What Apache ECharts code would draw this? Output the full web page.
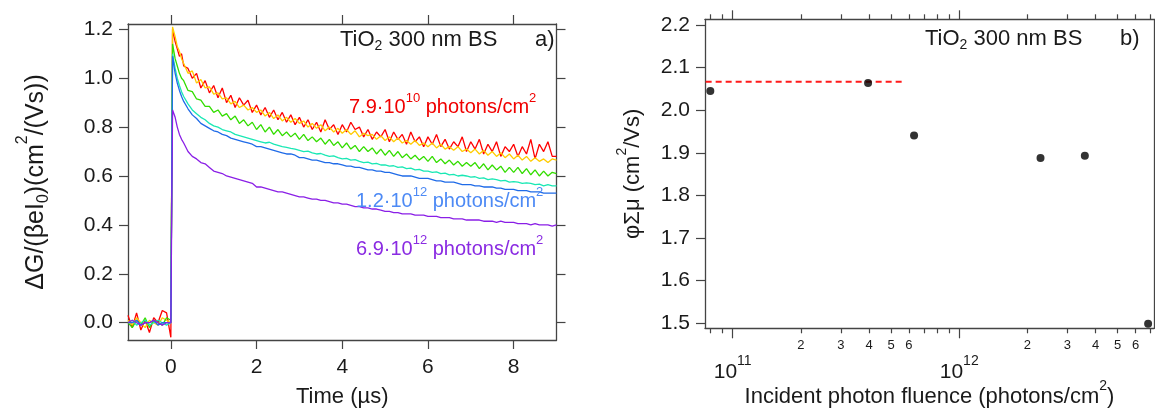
<!DOCTYPE html>
<html>
<head>
<meta charset="utf-8">
<script src="https://cdn.jsdelivr.net/npm/echarts@6/dist/echarts.min.js"></script>
<style>
html,body{margin:0;padding:0;background:#fff;}
#c{width:1155px;height:408px;}
</style>
</head>
<body>
<div id="c"></div>
<script>
// ---------- Panel a) data: time (µs) and normalized photoconductance ----------
const timeUs = [-1.0,-0.9,-0.8,-0.7,-0.6,-0.5,-0.4,-0.3,-0.2,-0.1,
  0.0,0.04,0.1,0.15,0.2,0.25,
  0.3,0.4,0.5,0.6,0.7,0.8,0.9,
  1.0,1.1,1.2,1.3,1.4,1.5,1.6,1.7,1.8,1.9,
  2.0,2.1,2.2,2.3,2.4,2.5,2.6,2.7,2.8,2.9,
  3.0,3.1,3.2,3.3,3.4,3.5,3.6,3.7,3.8,3.9,
  4.0,4.1,4.2,4.3,4.4,4.5,4.6,4.7,4.8,4.9,
  5.0,5.1,5.2,5.3,5.4,5.5,5.6,5.7,5.8,5.9,
  6.0,6.1,6.2,6.3,6.4,6.5,6.6,6.7,6.8,6.9,
  7.0,7.1,7.2,7.3,7.4,7.5,7.6,7.7,7.8,7.9,
  8.0,8.1,8.2,8.3,8.4,8.5,8.6,8.7,8.8,8.9,
  9.0];

const red = [0.03,-0.02,0.04,-0.03,0.01,-0.04,0.02,0.00,0.05,0.04,
  -0.06,1.20,1.15,1.12,1.09,1.10,
  1.05,1.04,1.00,1.02,0.96,0.99,0.94,
  0.97,0.92,0.96,0.90,0.93,0.88,0.92,0.89,0.91,0.86,
  0.89,0.85,0.88,0.84,0.87,0.83,0.86,0.82,0.85,0.81,
  0.84,0.80,0.83,0.79,0.82,0.78,0.83,0.79,0.81,0.77,
  0.81,0.78,0.82,0.79,0.80,0.76,0.79,0.75,0.78,0.76,
  0.79,0.74,0.78,0.75,0.77,0.73,0.78,0.74,0.76,0.72,
  0.76,0.73,0.77,0.72,0.75,0.71,0.74,0.72,0.76,0.70,
  0.74,0.71,0.75,0.69,0.73,0.70,0.74,0.68,0.72,0.70,
  0.73,0.68,0.72,0.69,0.75,0.67,0.73,0.70,0.74,0.68,
  0.68];

const yellow = [0.01,-0.01,0.02,0.00,-0.02,0.01,0.00,-0.01,0.02,0.01,
  0.00,1.21,1.17,1.13,1.11,1.08,
  1.06,1.02,1.03,0.98,0.995,0.96,0.965,
  0.935,0.94,0.915,0.92,0.895,0.905,0.88,0.89,0.87,0.88,
  0.86,0.87,0.845,0.86,0.835,0.85,0.825,0.84,0.82,0.835,
  0.815,0.825,0.80,0.815,0.795,0.81,0.785,0.80,0.78,0.795,
  0.775,0.79,0.77,0.785,0.76,0.775,0.765,0.77,0.75,0.765,
  0.745,0.76,0.74,0.755,0.735,0.745,0.73,0.745,0.725,0.735,
  0.72,0.735,0.715,0.73,0.71,0.72,0.705,0.72,0.70,0.71,
  0.695,0.71,0.69,0.705,0.685,0.70,0.68,0.695,0.675,0.69,
  0.67,0.685,0.665,0.68,0.66,0.675,0.66,0.67,0.655,0.67,
  0.665];

const green = [0.00,-0.02,0.01,-0.01,0.02,-0.02,0.01,0.00,-0.01,0.02,
  0.01,1.14,1.08,1.05,1.02,1.00,
  0.99,0.95,0.945,0.915,0.91,0.885,0.885,
  0.86,0.87,0.845,0.855,0.83,0.845,0.815,0.83,0.805,0.82,
  0.79,0.81,0.78,0.80,0.77,0.79,0.765,0.78,0.76,0.775,
  0.75,0.77,0.745,0.76,0.74,0.755,0.73,0.75,0.725,0.74,
  0.715,0.735,0.71,0.725,0.70,0.72,0.70,0.715,0.69,0.71,
  0.685,0.705,0.68,0.70,0.675,0.69,0.67,0.685,0.665,0.68,
  0.66,0.68,0.655,0.67,0.65,0.665,0.645,0.66,0.64,0.655,
  0.64,0.655,0.63,0.65,0.625,0.645,0.625,0.64,0.615,0.635,
  0.615,0.635,0.61,0.63,0.605,0.625,0.60,0.62,0.60,0.615,
  0.61];

const cyan = [0.00,0.01,-0.01,0.00,0.01,-0.01,0.00,0.01,0.00,-0.01,
  0.00,1.10,1.04,1.00,0.97,0.945,
  0.925,0.895,0.87,0.855,0.84,0.83,0.815,
  0.805,0.80,0.79,0.785,0.78,0.77,0.765,0.76,0.755,0.75,
  0.745,0.74,0.735,0.738,0.73,0.725,0.72,0.717,0.713,0.71,
  0.705,0.70,0.702,0.695,0.69,0.692,0.685,0.68,0.682,0.675,
  0.67,0.672,0.665,0.667,0.66,0.655,0.657,0.65,0.652,0.645,
  0.645,0.64,0.642,0.635,0.637,0.63,0.632,0.625,0.627,0.62,
  0.62,0.615,0.617,0.61,0.612,0.605,0.607,0.60,0.603,0.60,
  0.595,0.597,0.59,0.592,0.585,0.588,0.585,0.58,0.582,0.575,
  0.577,0.575,0.57,0.572,0.57,0.565,0.567,0.56,0.565,0.56,
  0.56];

const blue = [0.00,0.00,0.01,-0.01,0.00,0.00,0.01,-0.01,0.00,0.00,
  0.00,1.09,1.02,0.98,0.95,0.925,
  0.905,0.875,0.85,0.835,0.815,0.805,0.795,
  0.785,0.78,0.77,0.765,0.755,0.75,0.745,0.74,0.735,0.73,
  0.72,0.72,0.715,0.71,0.705,0.70,0.695,0.69,0.69,0.685,
  0.675,0.675,0.67,0.665,0.665,0.66,0.655,0.655,0.65,0.65,
  0.645,0.64,0.64,0.635,0.635,0.63,0.625,0.625,0.62,0.62,
  0.615,0.615,0.61,0.605,0.60,0.60,0.60,0.595,0.59,0.59,
  0.59,0.585,0.58,0.58,0.575,0.575,0.575,0.57,0.565,0.565,
  0.565,0.56,0.56,0.555,0.555,0.555,0.55,0.55,0.545,0.545,
  0.545,0.54,0.54,0.54,0.535,0.535,0.535,0.53,0.53,0.53,
  0.53];

const purple = [0.00,0.01,0.00,-0.01,0.00,0.00,0.01,0.00,-0.01,0.00,
  0.00,0.87,0.84,0.80,0.77,0.75,
  0.735,0.70,0.68,0.67,0.655,0.65,0.635,
  0.62,0.615,0.61,0.60,0.595,0.59,0.585,0.58,0.575,0.57,
  0.555,0.555,0.55,0.545,0.54,0.535,0.535,0.53,0.525,0.52,
  0.515,0.515,0.51,0.505,0.505,0.50,0.50,0.495,0.49,0.49,
  0.485,0.485,0.48,0.475,0.475,0.47,0.47,0.465,0.465,0.46,
  0.455,0.455,0.45,0.45,0.445,0.445,0.445,0.44,0.44,0.44,
  0.435,0.435,0.435,0.43,0.43,0.43,0.425,0.425,0.425,0.42,
  0.42,0.42,0.42,0.415,0.415,0.415,0.41,0.415,0.41,0.41,
  0.41,0.405,0.405,0.405,0.40,0.405,0.40,0.40,0.40,0.395,
  0.40];

const traceNames  = ['7.9e10','yellow','green','cyan','1.2e12','6.9e12'];
const traceColors = ['#ff0000','#ffcc00','#33dd00','#19e8b4','#1f6be8','#8a1fe6'];
const traces = [red, yellow, green, cyan, blue, purple];

const xTicksA = [0,2,4,6,8];
const yTicksA = [0,0.2,0.4,0.6,0.8,1.0,1.2];

// ---------- Panel b) data ----------
const fluence = [7.97e10, 3.96e11, 6.32e11, 2.285e12, 3.585e12, 6.82e12];
const phiSumMu = [2.045, 2.064, 1.941, 1.888, 1.893, 1.499];
const dashX = [7.6e10, 5.7e11];
const dashY = [2.067, 2.067];

const yTicksB = [1.5,1.6,1.7,1.8,1.9,2.0,2.1,2.2];
const minorTicksB = [8e10,9e10,2e11,3e11,4e11,5e11,6e11,7e11,8e11,9e11,2e12,3e12,4e12,5e12,6e12,7e12];
const minorLabelsB = [2e11,3e11,4e11,5e11,6e11,2e12,3e12,4e12,5e12,6e12];
const decadesB = [1e11,1e12];

// ---------- styling ----------
const FONT = 'Liberation Sans, Arial, Helvetica, sans-serif';
const AX = '#444';
const TXT = '#1a1a1a';

function richSet(F, S, color) {
  const H = F - 4;
  return {
    n:   {fontFamily: FONT, fontSize: F, lineHeight: F + 3, verticalAlign: 'bottom', padding: [0,0,3,0], color: color, fill: color},
    sup: {fontFamily: FONT, fontSize: S, lineHeight: S + H, verticalAlign: 'top', padding: [0,0,H,0], color: color, fill: color},
    sub: {fontFamily: FONT, fontSize: S, lineHeight: S, verticalAlign: 'bottom', color: color, fill: color}
  };
}

function pairs(xs, ys) { return xs.map((x, i) => [x, ys[i]]); }

const lineAx = {show: true, onZero: false, lineStyle: {color: AX, width: 1.3}};
const tickStyle = {color: AX, width: 1.2};

const chart = echarts.init(document.getElementById('c'), null, {renderer: 'canvas'});

const option = {
  animation: false,
  backgroundColor: '#fff',
  grid: [
    {left: 128, top: 24, width: 428.5, height: 316, containLabel: false, outerBoundsMode: 'none'},
    {left: 705, top: 19.3, width: 449, height: 309, containLabel: false, outerBoundsMode: 'none'}
  ],
  xAxis: [
    { // 0: panel a bottom
      gridIndex: 0, type: 'value', position: 'bottom', min: -1, max: 9,
      axisLine: lineAx, splitLine: {show: false},
      axisTick: {show: true, inside: false, length: 9, lineStyle: tickStyle, customValues: xTicksA},
      axisLabel: {fontFamily: FONT, fontSize: 21, color: TXT, margin: 17, customValues: xTicksA},
      name: 'Time (µs)', nameLocation: 'middle', nameGap: 46,
      nameTextStyle: {fontFamily: FONT, fontSize: 22, color: TXT}
    },
    { // 1: panel a top
      gridIndex: 0, type: 'value', position: 'top', min: -1, max: 9,
      axisLine: lineAx, splitLine: {show: false},
      axisTick: {show: true, inside: false, length: 9, lineStyle: tickStyle, customValues: xTicksA},
      axisLabel: {show: false}
    },
    { // 2: panel b bottom, minor ticks + labels
      gridIndex: 1, type: 'log', logBase: 10, position: 'bottom', min: 7.55e10, max: 7.24e12,
      axisLine: lineAx, splitLine: {show: false},
      axisTick: {show: true, inside: false, length: 5, lineStyle: tickStyle, customValues: minorTicksB},
      axisLabel: {fontFamily: FONT, fontSize: 13, color: TXT, margin: 11, customValues: minorLabelsB,
        formatter: v => String(Math.round(v / Math.pow(10, Math.floor(Math.log10(v) + 1e-9))))},
      name: '{n|Incident photon fluence (photons/cm}{sup|2}{n|)}', nameLocation: 'middle', nameGap: 51,
      nameTextStyle: {fontFamily: FONT, fontSize: 22, color: TXT, rich: richSet(22, 14, TXT)}
    },
    { // 3: panel b bottom, decade ticks + labels
      gridIndex: 1, type: 'log', logBase: 10, position: 'bottom', min: 7.55e10, max: 7.24e12,
      axisLine: {show: false, onZero: false}, splitLine: {show: false},
      axisTick: {show: true, inside: false, length: 10, lineStyle: tickStyle, customValues: decadesB},
      axisLabel: {color: TXT, margin: 26, customValues: decadesB,
        formatter: v => '{b|10}{s|' + Math.round(Math.log10(v)) + '}',
        rich: {
          b: {fontFamily: FONT, fontSize: 21, lineHeight: 21, verticalAlign: 'bottom', color: TXT},
          s: {fontFamily: FONT, fontSize: 14, lineHeight: 28, verticalAlign: 'top', padding: [0,0,14,0], color: TXT}
        }}
    },
    { // 4: panel b top minor
      gridIndex: 1, type: 'log', logBase: 10, position: 'top', min: 7.55e10, max: 7.24e12,
      axisLine: lineAx, splitLine: {show: false},
      axisTick: {show: true, inside: false, length: 5, lineStyle: tickStyle, customValues: minorTicksB},
      axisLabel: {show: false}
    },
    { // 5: panel b top decades
      gridIndex: 1, type: 'log', logBase: 10, position: 'top', min: 7.55e10, max: 7.24e12,
      axisLine: {show: false, onZero: false}, splitLine: {show: false},
      axisTick: {show: true, inside: false, length: 9, lineStyle: tickStyle, customValues: decadesB},
      axisLabel: {show: false}
    }
  ],
  yAxis: [
    { // 0: panel a left
      gridIndex: 0, type: 'value', position: 'left', min: -0.0708, max: 1.2217,
      axisLine: lineAx, splitLine: {show: false},
      axisTick: {show: true, inside: false, length: 9, lineStyle: tickStyle, customValues: yTicksA},
      axisLabel: {fontFamily: FONT, fontSize: 21, color: TXT, margin: 15, customValues: yTicksA,
        formatter: v => v.toFixed(1)},
      name: '{n|ΔG/(βeI}{sub|0}{n|)(cm}{sup|2}{n|/(Vs))}', nameLocation: 'middle', nameGap: 76, nameRotate: 90,
      nameTextStyle: {fontFamily: FONT, fontSize: 25, color: TXT, rich: richSet(25, 16, TXT)}
    },
    { // 1: panel a right
      gridIndex: 0, type: 'value', position: 'right', min: -0.0708, max: 1.2217,
      axisLine: lineAx, splitLine: {show: false},
      axisTick: {show: true, inside: false, length: 9, lineStyle: tickStyle, customValues: yTicksA},
      axisLabel: {show: false}
    },
    { // 2: panel b left
      gridIndex: 1, type: 'value', position: 'left', min: 1.4883, max: 2.2134,
      axisLine: lineAx, splitLine: {show: false},
      axisTick: {show: true, inside: false, length: 9, lineStyle: tickStyle, customValues: yTicksB},
      axisLabel: {fontFamily: FONT, fontSize: 21, color: TXT, margin: 15, customValues: yTicksB,
        formatter: v => v.toFixed(1)},
      name: '{n|φΣμ (cm}{sup|2}{n|/Vs)}', nameLocation: 'middle', nameGap: 58, nameRotate: 90,
      nameTextStyle: {fontFamily: FONT, fontSize: 22, color: TXT, rich: richSet(22, 14, TXT)}
    },
    { // 3: panel b right
      gridIndex: 1, type: 'value', position: 'right', min: 1.4883, max: 2.2134,
      axisLine: lineAx, splitLine: {show: false},
      axisTick: {show: true, inside: false, length: 9, lineStyle: tickStyle, customValues: yTicksB},
      axisLabel: {show: false}
    }
  ],
  series: [],
  graphic: []
};

traces.forEach((arr, i) => {
  option.series.push({
    type: 'line', name: traceNames[i], xAxisIndex: 0, yAxisIndex: 0,
    data: pairs(timeUs, arr), showSymbol: false, symbol: 'none',
    lineStyle: {color: traceColors[i], width: 1.3}, clip: true, z: 2 + i
  });
});

option.series.push({
  type: 'line', name: 'avg', xAxisIndex: 2, yAxisIndex: 2,
  data: pairs(dashX, dashY), showSymbol: false, symbol: 'none',
  lineStyle: {color: '#ff1a1a', width: 2, type: [6, 4]}, z: 3
});
option.series.push({
  type: 'scatter', name: 'phiSumMu', xAxisIndex: 2, yAxisIndex: 2,
  data: pairs(fluence, phiSumMu), symbol: 'circle', symbolSize: 8,
  itemStyle: {color: '#000'}, z: 4
});

function gtext(x, y, text, color, F, S) {
  return {type: 'text', x: x, y: y, z: 100,
    style: {text: text, rich: richSet(F, S, color), fill: color, font: F + 'px ' + FONT,
      align: 'left', verticalAlign: 'middle'}};
}

option.graphic = [
  gtext(340, 41, '{n|TiO}{sub|2}{n| 300 nm BS}', TXT, 22, 14),
  gtext(535, 41, '{n|a)}', TXT, 22, 14),
  gtext(349, 106, '{n|7.9·10}{sup|10}{n| photons/cm}{sup|2}', '#f00000', 20, 13),
  gtext(356, 200, '{n|1.2·10}{sup|12}{n| photons/cm}{sup|2}', '#4d8af5', 20, 13),
  gtext(356, 248, '{n|6.9·10}{sup|12}{n| photons/cm}{sup|2}', '#8a2be2', 20, 13),
  gtext(925, 40, '{n|TiO}{sub|2}{n| 300 nm BS}', TXT, 22, 14),
  gtext(1120, 40, '{n|b)}', TXT, 22, 14)
];

chart.setOption(option);
</script>
</body>
</html>
